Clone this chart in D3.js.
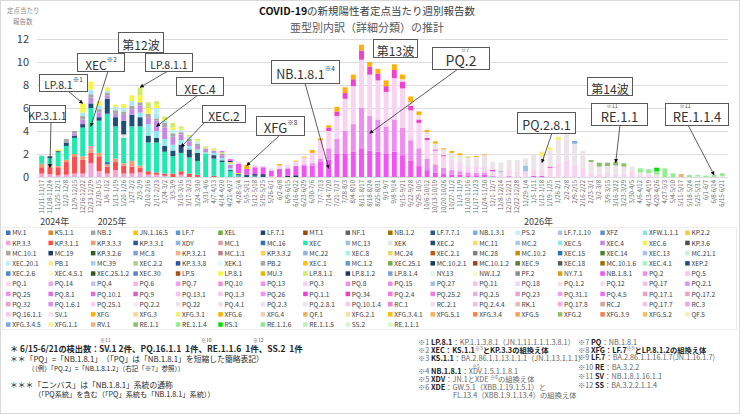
<!DOCTYPE html>
<html>
<head>
<meta charset="utf-8">
<script src="https://cdn.jsdelivr.net/npm/d3@7"></script>
<style>
  body { margin: 0; background: #fff; }
  svg text { font-family: "Noto Sans CJK JP", "Noto Sans", sans-serif; white-space: pre; }
</style>
</head>
<body>
<svg id="chart" width="740" height="414"></svg>
<script>
// ---- data ----
const weeks = [
  "11/11-11/17","11/18-11/24","11/25-12/1","12/2-12/8","12/9-12/15","12/16-12/22","12/23-12/29","12/30-1/5",
  "1/6-1/12","1/13-1/19","1/20-1/26","1/27-2/2","2/3-2/9","2/10-2/16","2/17-2/23","2/24-3/2",
  "3/3-3/9","3/10-3/16","3/17-3/23","3/24-3/30","3/31-4/6","4/7-4/13","4/14-4/20","4/21-4/27",
  "4/28-5/4","5/5-5/11","5/12-5/18","5/19-5/25","5/26-6/1","6/2-6/8","6/9-6/15","6/16-6/22",
  "6/23-6/29","6/30-7/6","7/7-7/13","7/14-7/20","7/21-7/27","7/28-8/3","8/4-8/10","8/11-8/17",
  "8/18-8/24","8/25-8/31","9/1-9/7","9/8-9/14","9/15-9/21","9/22-9/28","9/29-10/5","10/6-10/12",
  "10/13-10/19","10/20-10/26","10/27-11/2","11/3-11/9","11/10-11/16","11/17-11/23","11/24-11/30","12/1-12/7",
  "12/8-12/14","12/15-12/21","12/22-12/28","12/29-1/4","1/5-1/11","1/12-1/18","1/19-1/25","1/26-2/1",
  "2/2-2/8","2/9-2/15","2/16-2/22","2/23-3/1","3/2-3/8","3/9-3/15","3/16-3/22","3/23-3/29",
  "3/30-4/5","4/6-4/12","4/13-4/19","4/20-4/26","4/27-5/3","5/4-5/10","5/11-5/17","5/18-5/24",
  "5/25-5/31","6/1-6/7","6/8-6/14","6/15-6/21"
];
const yearLabels = ["2024年", "2025年", "2026年"];
const yearStartWeeks = ["11/11-11/17", "12/30-1/5", "12/29-1/4"];
const yTicks = [0, 2, 4, 6, 8, 10, 12];

const legendNames = [
  "MV.1","KS.1.1","NB.1","JN.1.16.5","LF.7","XEL","LF.7.1","MT.1","NF.1","NB.1.2","LF.7.7.1","NB.1.3.1","PS.2","LF.7.1.10","XFZ","XFW.1.1.1","KP.2.2",
  "KP.3.3","KP.3.1.1","KP.3.3.3","KP.3.3.1","XDY","MC.1","MC.16","XEC","MC.13","XEK","XEC.2","MC.11","MC.2","XEC.5","XEC.4","XEC.6","KP.3.6",
  "MC.10.1","MC.19","KP.3.2.6","MC.8","KP.3.2.1","MC.1.1","KP.3.3.2","MC.22","XEC.8","MC.24","XEC.2.1","MC.28","MC.10.2","XEC.15","XEC.14","XEC.13","MC.21.1",
  "XEC.20.1","PB.1","MC.39","XEC.2.2","KP.3.3.8","XEK.1","PB.2","XEC.1","MC.1.2","XEC.25.1","MC.10.2.1","MC.10.1.2","XEC.9","XEC.18","MC.10.1.6","XEC.4.1","XEP.2",
  "XEC.2.6","XEC.4.5.1","XEC.25.1.2","XEC.30","LP.5","LP.8.1","MU.3","LP.8.1.1","LP.8.1.2","LP.8.1.4","NY.13","NW.1.2","PF.2","NY.7.1","NB.1.8.1","PQ.2","PQ.5",
  "PQ.1","PQ.14","PQ.4","PQ.6","PQ.7","PQ.10","PQ.13","PQ.3","PQ.8","PQ.15","PQ.27","PQ.11","PQ.18","PQ.1.2","PQ.12","PQ.17","PQ.2.1",
  "PQ.25","PQ.8.1","PQ.10.1","PQ.9","PQ.13.1","PQ.1.3","PQ.26","PQ.1.1","PQ.34","PQ.2.4","PQ.25.2","PQ.2.5","PQ.23","PQ.31.1","PQ.4.5","PQ.17.1","PQ.17.2",
  "PQ.32","PQ.1.6.1","PQ.25.1","PQ.2.2","PQ.22","PQ.4.1","PQ.2.3","PQ.2.8.1","PQ.10.1.4","RC.1","RC.2.1","PQ.2.4.4","RK.1","PQ.17.8","RC.2","PQ.17.7","RC.3",
  "PQ.16.1.1","SV.1","XFG","XFG.3","XFG.3.1","XFG.6","XFG.4","QF.1","XFG.2.1","XFG.3.4.1","XFG.5.1","XFG.3.4","XFG.5","XFG.2","XFG.3.9","XFG.5.2","QF.5",
  "XFG.3.4.5","XFG.1.1","RV.1","RE.1.1","RE.1.1.4","RS.1","RE.1.1.6","RE.1.1.5","SS.2","RE.1.1.1"
];
const legendColors = [
  "#4472c4","#ed7d31","#a5a5a5","#ffc000","#5b9bd5","#70ad47","#264478","#9e480e","#636363","#997300","#255e91","#7cafdd","#cdeefa","#a9c4eb","#698ed0","#8be3ef","#ffc53d",
  "#f7a3d8","#ff4d4d","#f79a6e","#2f5597","#8fb4e3","#e39aa5","#2e75b6","#1de9b0","#9dc3e6","#e3e3e3","#1f4e79","#ffd966","#a9cdea","#8ee8ee","#c589e8","#f2f250","#4d4d4d",
  "#a6a6a6","#1f3864","#385723","#7da0dc","#f4b183","#c27c89","#ffd34d","#8db4e2","#a6ecf7","#e6da6e","#c55a11","#808080","#bf9000","#2e75b6","#548235","#a9c0e8","#c9f2cf",
  "#bdeff7","#ffe699","#a9cdea","#a9d18e","#2f5597","#dff7f7","#a6a6a6","#ffc000","#5b9bd5","#70ad47","#203864","#a0461b","#548235","#595959","#997300","#a9f0c9","#1f4e79",
  "#4a8bd0","#fff5cc","#385723","#5b86d0","#a5501a","#f5f542","#e6b800","#d2ea6a","#203864","#7f9fd0","#e2f7e2","#fff7c2","#8c8c8c","#d4a017","#f552f5","#ef8cef","#f7c4ef",
  "#f8d3f2","#f0a8e8","#c9c2f0","#f8b8e8","#f09ff0","#f08fd8","#f890f0","#f7d0f0","#f58ee8","#e48ff0","#9dc3e6","#f7c0f0","#f7d2f7","#f5e0f0","#efe0ef","#f7c0ef","#e690f7",
  "#f58ef0","#e070e8","#e06ed8","#d860c0","#f7c0f0","#f7c8f0","#f58ef7","#f040d0","#f040c0","#f07de0","#f07ee8","#e8b0e0","#eea0d0","#f0a0f0","#f070f0","#f0a0c0","#f0a0c8",
  "#f0a0c8","#d890e8","#f7d0f0","#f7eef7","#efe2ef","#efe2ef","#efe2ef","#ece4e8","#f7c8f0","#f080d0","#efe0ef","#f0c0e0","#f0b8b0","#f7a8f0","#d8a0a0","#f7c0f0","#f0a0f0",
  "#f7c8f0","#f7e0f0","#ffb000","#f7d890","#f7ef70","#ffb000","#f0d0b0","#f0b060","#f7e0a0","#ffc000","#f7b060","#ff7f3f","#f7a060","#90c060","#f78050","#f7c060","#f7f0b0",
  "#7ea8e0","#f7f0a0","#f0b080","#8cc068","#90f090","#00e000","#90e890","#c0f0b0","#d0f8d0","#d8f8d0"
];

// weekly values per lineage (rows of 12 weeks)
const kp33 = [
  0.3,0.25,0.15,0.2,0.3,0.3,1.2,0.5,0.3,0.6,0.3,0.3,
  0.4,0.2,0.2,0.1,0,0.2,0,0,0,0,0,0,
  0,0,0,0,0,0,0,0,0,0,0,0, 0,0,0,0,0,0,0,0,0,0,0,0,
  0,0,0,0,0,0,0,0,0,0,0,0, 0,0,0,0,0,0,0,0,0,0,0,0, 0,0,0,0,0,0,0,0,0,0,0,0];
const kp311 = [
  0.55,0.6,0.7,1.1,1.5,1.2,0.9,1.3,0.6,0.7,0.7,0.6,
  0.4,0.3,0.2,0.2,0.3,0.3,0.3,0.2,0,0.1,0,0,
  0,0,0,0,0,0,0,0,0,0,0,0, 0,0,0,0,0,0,0,0,0,0,0,0,
  0,0,0,0,0,0,0,0,0,0,0,0, 0,0,0,0,0,0,0,0,0,0,0,0, 0,0,0,0,0,0,0,0,0,0,0,0];
const kp333 = [
  0.3,0.2,0.1,0.2,0.2,0.3,0.3,0.3,0.2,0.3,0.2,0.5,
  0.2,0,0,0,0,0,0,0,0,0,0,0,
  0,0,0,0,0,0,0,0,0,0,0,0, 0,0,0,0,0,0,0,0,0,0,0,0,
  0,0,0,0,0,0,0,0,0,0,0,0, 0,0,0,0,0,0,0,0,0,0,0,0, 0,0,0,0,0,0,0,0,0,0,0,0];
const mc1 = [
  0,0,0,0,0,0,0.3,0,0,0,0,0,
  0,0,0,0,0,0,0,0,0,0,0,0,
  0,0,0,0,0,0,0,0,0,0,0,0, 0,0,0,0,0,0,0,0,0,0,0,0,
  0,0,0,0,0,0,0,0,0,0,0,0, 0,0,0,0,0,0,0,0,0,0,0,0, 0,0,0,0,0,0,0,0,0,0,0,0];
const mc16 = [
  0,0.1,0,0,0,0,0,0,0.2,0,0,0,
  0,0,0,0,0,0,0,0,0,0,0,0,
  0.05,0,0,0,0,0,0,0,0,0,0,0, 0,0,0,0,0,0,0,0,0,0,0,0,
  0,0,0,0,0,0,0,0,0,0,0,0, 0,0,0,0,0,0,0,0,0,0,0,0, 0,0,0,0,0,0,0,0,0,0,0,0];
const xec = [
  0.7,0.5,1.2,1.2,1.4,2.5,3.3,2.8,4.2,2.8,2.2,3.0,
  3.4,2.5,2.6,1.9,1.5,1.6,1.4,1.2,2.0,1.5,1.3,0.5,
  0.1,0,0.05,0,0,0,0,0,0,0,0,0, 0,0,0,0,0,0,0,0,0,0,0,0,
  0,0,0,0,0,0,0,0,0,0,0,0, 0,0,0,0,0,0,0,0,0,0,0,0, 0,0,0,0,0,0,0,0,0,0,0,0];
const xek = [
  0,0,0,0,0,0,0,0,0,0,0.3,0,
  0,0,0,0,0,0,0,0,0,0,0,0,
  0,0,0,0,0,0,0,0,0,0,0,0, 0,0,0,0,0,0,0,0,0,0,0,0,
  0,0,0,0,0,0,0,0,0,0,0,0, 0,0,0,0,0,0,0,0,0,0,0,0, 0,0,0,0,0,0,0,0,0,0,0,0];
const xec2 = [
  0,0.15,0.1,0.3,0.2,0.3,0.4,0.3,1.3,0.8,1.2,1.0,
  0.8,0.6,0.4,0.5,0.5,0.7,0.7,0.7,0,0.3,0.15,0.1,
  0.1,0.1,0.1,0.1,0,0,0,0,0,0,0,0, 0,0,0,0,0,0,0,0,0,0,0,0,
  0,0,0,0,0,0,0,0,0,0,0,0, 0,0,0,0,0,0,0,0,0,0,0,0, 0,0,0,0,0,0,0,0,0,0,0,0];
const xec5 = [
  0,0,0,0,0,0,0,0,0,0,0,0,
  0.4,1.0,0.6,0.6,0.5,0.4,0.3,0.3,0.15,0.2,0.2,0.15,
  0,0,0,0,0,0,0,0,0,0,0,0, 0,0,0,0,0,0,0,0,0,0,0,0,
  0,0,0,0,0,0,0,0,0,0,0,0, 0,0,0,0,0,0,0,0,0,0,0,0, 0,0,0,0,0,0,0,0,0,0,0,0];
const xec4 = [
  0,0,0,0,0.2,0.4,0.5,0.4,0.3,0.3,0.5,0.5,
  0.6,0.6,0.9,1.0,0.7,0.5,0.4,0.3,0.3,0.2,0.25,0.3,
  0,0,0,0,0,0,0,0,0,0,0,0, 0,0,0,0,0,0,0,0,0,0,0,0,
  0,0,0,0,0,0,0,0,0,0,0,0, 0,0,0,0,0,0,0,0,0,0,0,0, 0,0,0,0,0,0,0,0,0,0,0,0];
const xec6 = [
  0,0,0.15,0,0,0,0,0,0,0,0,0,
  0,0,0,0,0,0,0,0,0,0,0,0,
  0,0,0,0,0,0,0,0,0,0,0,0, 0,0,0,0,0,0,0,0,0,0,0,0,
  0,0,0,0,0,0,0,0,0,0,0,0, 0,0,0,0,0,0,0,0,0,0,0,0, 0,0,0,0,0,0,0,0,0,0,0,0];
const mc101 = [
  0,0,0,0.3,0.2,0.3,0.3,0.3,0.2,0.3,0.3,0.3,
  0.3,0.3,0.2,0.4,0.3,0.2,0.2,0.2,0,0,0.1,0,
  0,0,0,0,0,0,0,0,0,0,0,0, 0,0,0,0,0,0,0,0,0,0,0,0,
  0,0,0,0,0,0,0,0,0,0,0,0, 0,0,0,0,0,0,0,0,0,0,0,0, 0,0,0,0,0,0,0,0,0,0,0,0];
const xec8 = [
  0,0,0,0,0,0.3,0.4,0.3,0.2,0.3,0.3,0.4,
  0,0,0.4,0.2,0,0,0,0,0,0,0,0,
  0,0,0,0,0,0,0,0,0,0,0,0, 0,0,0,0,0,0,0,0,0,0,0,0,
  0,0,0,0,0,0,0,0,0,0,0,0, 0,0,0,0,0,0,0,0,0,0,0,0, 0,0,0,0,0,0,0,0,0,0,0,0];
const xec201 = [
  0,0,0,0,0,0,0,0,0,0,0,0,
  0,0,0.5,0,0.3,0.2,0.2,0.2,0,0,0,0.1,
  0,0,0,0,0,0,0,0,0,0,0,0, 0,0,0,0,0,0,0,0,0,0,0,0,
  0,0,0,0,0,0,0,0,0,0,0,0, 0,0,0,0,0,0,0,0,0,0,0,0, 0,0,0,0,0,0,0,0,0,0,0,0];
const lp81 = [
  0,0,0,0,0,0.8,0.7,0.4,0.3,0.2,0.35,0.5,
  0.6,0.5,0.3,0.15,0.2,0.1,0,0.1,0,0.1,0,0,
  0,0,0,0,0,0,0,0,0,0,0,0, 0,0,0,0,0,0,0,0,0,0,0,0,
  0,0,0,0,0,0,0,0,0,0,0,0, 0,0,0,0,0,0,0,0,0,0,0,0, 0,0,0,0,0,0,0,0,0,0,0,0];
const lp811 = [
  0,0,0,0,0,0,0,0,0,0,0,0,
  0.7,0.5,0.3,0.2,0.4,0.2,0.15,0.1,0.2,0.1,0.15,0.15,
  0.1,0,0,0,0.05,0,0,0,0,0,0,0, 0,0,0,0,0,0,0,0,0,0,0,0,
  0,0,0,0,0,0,0,0,0,0,0,0, 0,0,0,0,0,0,0,0,0,0,0,0, 0,0,0,0,0,0,0,0,0,0,0,0];
const lp812 = [
  0,0,0,0,0,0,0,0,0,0,0,0,
  0,0,0,0,0,0,0,0,0,0,0,0.1,
  0,0.1,0.1,0.15,0,0,0.1,0.15,0,0,0,0, 0,0,0,0,0,0,0,0,0,0,0,0,
  0,0,0,0,0,0,0,0,0,0,0,0, 0,0,0,0,0,0,0,0,0,0,0,0, 0,0,0,0,0,0,0,0,0,0,0,0];
const nb181 = [
  0,0,0,0,0,0,0,0,0,0,0,0,
  0,0,0,0,0,0,0,0,0,0,0.1,0.15,
  0.8,0.5,0.6,0.6,0.5,0.7,0.65,0.8,1.0,1.0,1.3,1.5,
  2.0,2.0,2.2,2.5,2.3,2.2,2.0,2.2,1.9,1.4,1.0,0.6,
  0.4,0.3,0.2,0.2,0.15,0.15,0.2,0,0,0,0,0,
  0.1,0.1,0,0,0,0,0,0,0,0,0,0, 0,0,0,0,0,0,0,0,0,0,0,0];
const pq2 = [
  0,0,0,0,0,0,0,0,0,0,0,0, 0,0,0,0,0,0,0,0,0,0,0,0,
  0,0,0,0,0,0,0,0,0.1,0.2,0.3,1.0,
  1.3,2.0,2.4,3.5,3.0,2.8,2.4,2.8,2.4,1.8,1.5,1.0,
  0.7,0.5,0.4,0.3,0.25,0.2,0.2,0.1,0,0.1,0,0,
  0,0,0,0,0,0,0,0,0,0,0,0, 0,0,0,0,0,0,0,0,0,0,0,0];
const pq1 = [
  0,0,0,0,0,0,0,0,0,0,0,0, 0,0,0,0,0,0,0,0,0,0,0,0,
  0.2,0,0.2,0.11,0.2,0.3,0.3,0.4,0.6,0.9,1.6,1.5,
  2.0,2.8,3.3,4.2,3.6,3.4,3.0,3.6,3.4,2.6,2.2,1.6,
  1.2,1.0,0.9,0.8,0.6,0.6,0.6,0.4,0.4,0.5,0.48,0.5,
  0.6,0.5,0.8,1.2,1.4,1.1,0.8,0.4,0.3,0.35,0.3,0.3,
  0.5,0.2,0.2,0,0,0,0,0,0,0,0,0];
const pq27 = [
  0,0,0,0,0,0,0,0,0,0,0,0, 0,0,0,0,0,0,0,0,0,0,0,0,
  0,0,0,0,0,0,0,0,0,0,0,0, 0,0,0,0,0,0,0,0,0,0,0,0,
  0,0,0,0,0,0,0,0,0.15,0,0,0.5,
  0,0,0,0,0,0,0,0,0,0,0,0, 0,0,0,0,0,0,0,0,0,0,0,0];
const pq11 = [
  0,0,0,0,0,0,0,0,0,0,0,0, 0,0,0,0,0,0,0,0,0,0,0,0,
  0,0,0,0,0,0,0,0,0,0,0,0.3,
  0.4,0.5,0.6,0.8,0.7,0.6,0.5,0.7,0.6,0.4,0.3,0.2,
  0.1,0.1,0,0,0,0,0,0.13,0,0,0,0,
  0,0,0.1,0,0,0,0,0,0,0,0,0, 0,0,0,0,0,0,0,0,0,0,0,0];
const pq281 = [
  0,0,0,0,0,0,0,0,0,0,0,0, 0,0,0,0,0,0,0,0,0,0,0,0,
  0,0,0,0,0,0,0,0,0,0,0,0,
  0,0,0,0,0,0,0,0,0.2,0.3,0.4,0.5,
  0.5,0.5,0.6,0.6,0.7,0.8,0.9,0.7,0.7,0.88,1.0,0.62,
  1.27,1.2,1.4,2.0,2.4,1.8,1.46,0.9,0.6,0.6,0.7,0.6,
  0.4,0.2,0.15,0.2,0,0,0,0,0.05,0,0,0.1];
const xfg = [
  0,0,0,0,0,0,0,0,0,0,0,0, 0,0,0,0,0,0,0,0,0,0,0,0,
  0,0.35,0,0,0,0.13,0,0.07,0.07,0.25,0.16,0.2,
  0.4,0.5,0.4,0.5,0.4,0.4,0.5,0.5,0.4,0.5,0.3,0.2,
  0.2,0.1,0.16,0.16,0.07,0.08,0.05,0,0,0,0,0,
  0,0,0,0,0,0,0,0,0,0,0,0, 0,0,0,0,0,0,0,0,0,0,0,0];
const xfg31 = [
  0,0,0,0,0,0,0,0,0,0,0,0, 0,0,0,0,0,0,0,0,0,0,0,0,
  0,0,0,0,0,0,0,0,0,0,0,0, 0,0,0,0,0,0,0,0,0,0,0,0,
  0,0,0,0,0,0,0,0,0,0,0,0,
  0,0.4,0.28,0.3,0,0,0,0,0,0,0,0, 0,0,0,0,0,0,0,0,0,0,0,0];
const xfg345 = [
  0,0,0,0,0,0,0,0,0,0,0,0, 0,0,0,0,0,0,0,0,0,0,0,0,
  0,0,0,0,0,0,0,0,0,0,0,0, 0,0,0,0,0,0,0,0,0,0,0,0,
  0,0,0,0,0,0,0,0,0,0,0,0,
  0,0,0,0,0,0.23,0,0,0,0,0,0, 0,0,0,0,0,0,0,0,0,0,0,0];
const rv1 = [
  0,0,0,0,0,0,0,0,0,0,0,0, 0,0,0,0,0,0,0,0,0,0,0,0,
  0,0,0,0,0,0,0,0,0,0,0,0, 0,0,0,0,0,0,0,0,0,0,0,0,
  0,0,0,0,0,0,0,0,0,0,0,0, 0,0,0,0,0,0,0,0,0,0,0,0,
  0,0,0,0,0,0,0.26,0,0,0,0,0];
const re11 = [
  0,0,0,0,0,0,0,0,0,0,0,0, 0,0,0,0,0,0,0,0,0,0,0,0,
  0,0,0,0,0,0,0,0,0,0,0,0, 0,0,0,0,0,0,0,0,0,0,0,0,
  0,0,0,0,0,0,0,0,0,0,0,0,
  0,0,0,0,0,0,0,0.18,0.35,0.3,0.33,0.29,
  0,0,0,0,0,0,0,0,0,0,0,0];
const re114 = [
  0,0,0,0,0,0,0,0,0,0,0,0, 0,0,0,0,0,0,0,0,0,0,0,0,
  0,0,0,0,0,0,0,0,0,0,0,0, 0,0,0,0,0,0,0,0,0,0,0,0,
  0,0,0,0,0,0,0,0,0,0,0,0, 0,0,0,0,0,0,0,0,0,0,0,0,
  0,0.35,0.32,0.3,0.75,0.32,0,0.17,0.12,0.12,0.17,0];
const rs1 = [
  0,0,0,0,0,0,0,0,0,0,0,0, 0,0,0,0,0,0,0,0,0,0,0,0,
  0,0,0,0,0,0,0,0,0,0,0,0, 0,0,0,0,0,0,0,0,0,0,0,0,
  0,0,0,0,0,0,0,0,0,0,0,0, 0,0,0,0,0,0,0,0,0,0,0,0,
  0,0,0,0.31,0,0,0,0,0,0,0,0];
const re116 = [
  0,0,0,0,0,0,0,0,0,0,0,0, 0,0,0,0,0,0,0,0,0,0,0,0,
  0,0,0,0,0,0,0,0,0,0,0,0, 0,0,0,0,0,0,0,0,0,0,0,0,
  0,0,0,0,0,0,0,0,0,0,0,0, 0,0,0,0,0,0,0,0,0,0,0,0,
  0,0,0,0,0,0,0,0,0,0,0,0.22];

// stacking order follows the legend order
const seriesList = [
  ["KP.3.3", kp33], ["KP.3.1.1", kp311], ["KP.3.3.3", kp333], ["MC.1", mc1], ["MC.16", mc16],
  ["XEC", xec], ["XEK", xek], ["XEC.2", xec2], ["XEC.5", xec5], ["XEC.4", xec4], ["XEC.6", xec6],
  ["MC.10.1", mc101], ["XEC.8", xec8], ["XEC.20.1", xec201], ["LP.8.1", lp81], ["LP.8.1.1", lp811],
  ["LP.8.1.2", lp812], ["NB.1.8.1", nb181], ["PQ.2", pq2], ["PQ.1", pq1], ["PQ.27", pq27],
  ["PQ.1.1", pq11], ["PQ.2.8.1", pq281], ["XFG", xfg], ["XFG.3.1", xfg31], ["XFG.3.4.5", xfg345],
  ["RV.1", rv1], ["RE.1.1", re11], ["RE.1.1.4", re114], ["RS.1", rs1], ["RE.1.1.6", re116]
];

// ---- chart ----
const svg = d3.select("#chart");

svg.append("rect").attr("x", 0.5).attr("y", 0.5).attr("width", 739).attr("height", 413)
  .attr("fill", "#fff").attr("stroke", "#d9d9d9");

const x = d3.scaleBand().domain(weeks).range([37.6, 726.4]).paddingInner(0.4).paddingOuter(0.2);
const y = d3.scaleLinear().domain([0, 12]).range([177, 39]);
const color = d3.scaleOrdinal(legendNames, legendColors);

// grid
svg.append("g").selectAll("line").data(yTicks).enter().append("line")
  .attr("x1", 37).attr("x2", 728)
  .attr("y1", d => y(d) + 0.5).attr("y2", d => y(d) + 0.5)
  .attr("stroke", "#dcdcdc").attr("stroke-width", 1);

svg.append("g").selectAll("text").data(yTicks).enter().append("text")
  .attr("x", 29).attr("y", d => y(d)).attr("dy", "0.35em")
  .attr("text-anchor", "end").attr("font-size", 11).attr("fill", "#404040")
  .text(d => d);

svg.append("text").attr("x", 7).attr("y", 13).attr("font-size", 6.5).attr("fill", "#8c8c8c").text("定点当たり");
svg.append("text").attr("x", 13).attr("y", 24).attr("font-size", 6.5).attr("fill", "#8c8c8c").text("報告数");

// title
const title = svg.append("text").attr("x", 367).attr("y", 15).attr("text-anchor", "middle").attr("font-size", 10.5);
title.append("tspan").attr("font-weight", "bold").attr("fill", "#111").text("COVID-19");
title.append("tspan").attr("fill", "#404040").text("の新規陽性者定点当たり週別報告数");
svg.append("text").attr("x", 367).attr("y", 32).attr("text-anchor", "middle").attr("font-size", 11)
  .attr("fill", "#595959").text("亜型別内訳（詳細分類）の推計");

// stacked bars
const rows = weeks.map((w, i) => {
  const r = { week: w };
  seriesList.forEach(([name, vals]) => { r[name] = vals[i]; });
  return r;
});
const stacked = d3.stack().keys(seriesList.map(s => s[0]))(rows);

svg.append("g").selectAll("g").data(stacked).enter().append("g")
  .attr("fill", d => color(d.key))
  .selectAll("rect").data(d => d.filter(p => p[1] - p[0] > 0)).enter().append("rect")
  .attr("x", d => x(d.data.week))
  .attr("width", x.bandwidth())
  .attr("y", d => y(d[1]))
  .attr("height", d => y(d[0]) - y(d[1]));

// x labels
svg.append("g").selectAll("text").data(weeks).enter().append("text")
  .attr("transform", d => `translate(${x(d) + x.bandwidth() / 2 + 2},180) rotate(-90)`)
  .attr("text-anchor", "end").attr("font-size", 6).attr("fill", "#666")
  .text(d => d);

svg.append("g").selectAll("text").data(yearLabels).enter().append("text")
  .attr("x", (d, i) => x(yearStartWeeks[i]) + 1).attr("y", 225)
  .attr("font-size", 9).attr("fill", "#404040").text(d => d);

// callouts
const defs = svg.append("defs");
defs.append("marker").attr("id", "arr").attr("viewBox", "0 0 10 10").attr("refX", 9).attr("refY", 5)
  .attr("markerWidth", 5).attr("markerHeight", 5).attr("orient", "auto")
  .append("path").attr("d", "M0,0L10,5L0,10z").attr("fill", "#111");

const callouts = [
  { t: "KP.3.1.1", box: [29, 105, 36, 17], fs: 10.5, from: [51, 122], week: "11/18-11/24", v: 0.8 },
  { t: "LP.8.1", sup: "※1", box: [39, 74, 48, 17], fs: 10.5, from: [68, 91], week: "12/16-12/22", v: 6.4 },
  { t: "XEC", sup: "※2", box: [77, 53, 47, 18], fs: 12, from: [108, 71], week: "12/23-12/29", v: 4.4 },
  { t: "第12波", box: [118, 32, 45, 20], fs: 12 },
  { t: "LP.8.1.1", box: [145, 53, 47, 18], fs: 10.5, from: [168, 71], week: "2/3-2/9", v: 7.8 },
  { t: "XEC.4", box: [176, 77, 47, 18], fs: 12, from: [198, 95], week: "2/17-2/23", v: 4.4 },
  { t: "XEC.2", box: [202, 105, 43, 17], fs: 12, from: [205, 122], week: "3/10-3/16", v: 2.6 },
  { t: "XFG", sup: "※8", box: [256, 116, 48, 19], fs: 13, from: [280, 135], week: "5/5-5/11", v: 1.0 },
  { t: "NB.1.8.1", sup: "※4", box: [271, 60, 68, 23], fs: 12.5, from: [305, 83], week: "7/14-7/20", v: 0.75 },
  { t: "第13波", box: [373, 39, 44, 18], fs: 12 },
  { t: "PQ.2", supAbove: "※7", supX: 465, box: [432, 47, 57, 22], fs: 14, from: [458, 69], week: "8/18-8/24", v: 3.8 },
  { t: "第14波", box: [587, 77, 45, 18], fs: 12 },
  { t: "PQ.2.8.1", box: [517, 112, 58, 21], fs: 12.5, from: [552, 133], week: "1/12-1/18", v: 1.25 },
  { t: "RE.1.1", supAbove: "※11", supX: 612, box: [591, 103, 56, 22], fs: 13, from: [620, 125], week: "3/16-3/22", v: 1.25 },
  { t: "RE.1.1.4", supAbove: "※11", supX: 685, box: [665, 103, 63, 22], fs: 13, from: [688, 125], week: "6/8-6/14", v: 0.17 }
];

const cg = svg.append("g");
callouts.forEach(c => {
  if (c.from) {
    cg.append("line")
      .attr("x1", c.from[0]).attr("y1", c.from[1])
      .attr("x2", x(c.week) + x.bandwidth() / 2).attr("y2", y(c.v))
      .attr("stroke", "#333").attr("stroke-width", 0.8).attr("marker-end", "url(#arr)");
  }
  const [bx, by, bw, bh] = c.box;
  cg.append("rect").attr("x", bx + 0.5).attr("y", by + 0.5).attr("width", bw).attr("height", bh)
    .attr("fill", "#fff").attr("stroke", "#595959").attr("stroke-width", 1);
  const tx = cg.append("text").attr("x", bx + bw / 2 + 0.5).attr("y", by + bh / 2 + 1.5)
    .attr("dominant-baseline", "central").attr("text-anchor", "middle")
    .attr("font-size", c.fs).attr("fill", "#333");
  tx.append("tspan").text(c.t);
  if (c.sup) {
    tx.append("tspan").attr("font-size", 6.5).attr("dy", -5).text(c.sup);
  }
  if (c.supAbove) {
    cg.append("text").attr("x", c.supX).attr("y", by + 4.5).attr("text-anchor", "middle")
      .attr("font-size", 5.5).attr("fill", "#555").text(c.supAbove);
  }
});

// legend
svg.append("rect").attr("x", 2.5).attr("y", 227.5).attr("width", 734).attr("height", 102)
  .attr("fill", "none").attr("stroke", "#ececec");
const lg = svg.append("g").selectAll("g").data(legendNames).enter().append("g")
  .attr("transform", (d, i) => `translate(${6 + (i % 17) * 42.45},${233 + Math.floor(i / 17) * 10.2})`);
lg.append("rect").attr("x", 0).attr("y", -2.5).attr("width", 4.5).attr("height", 4.5)
  .attr("fill", d => color(d));
lg.append("text").attr("x", 6.2).attr("y", 0).attr("dy", "0.35em")
  .attr("font-size", 6.6).attr("fill", "#404040").text(d => d);

// footnotes (left)
const noteL = svg.append("g").attr("fill", "#262626");
noteL.append("text").attr("x", 10).attr("y", 352).attr("font-size", 8.2).attr("font-weight", "bold")
  .text("＊ 6/15-6/21の検出数：");
noteL.append("text").attr("x", 99).attr("y", 352).attr("font-size", 8.5).attr("font-weight", "bold")
  .text("SV.1 2件、PQ.16.1.1  1件、RE.1.1.6  1件、SS.2  1件");
[["※11", 100], ["※10", 201], ["※12", 253]].forEach(([s, px]) => {
  noteL.append("text").attr("x", px).attr("y", 342).attr("font-size", 5).attr("fill", "#555").text(s);
});
noteL.append("text").attr("x", 10).attr("y", 362).attr("font-size", 7.8)
  .text("＊＊「PQ」=「NB.1.8.1」　（「PQ」は「NB.1.8.1」を短縮した簡略表記）");
noteL.append("text").attr("x", 28).attr("y", 371).attr("font-size", 6.5)
  .text("（（例）「PQ.2」=「NB.1.8.1.2」（右記「※7」参照））");
noteL.append("text").attr("x", 10).attr("y", 388).attr("font-size", 7.8)
  .text("＊＊＊「ニンバス」は「NB.1.8.1」系統の通称");
noteL.append("text").attr("x", 34).attr("y", 397).attr("font-size", 7.2)
  .text("（「PQ系統」を含む（「PQ」系統も「NB.1.8.1」系統））");

// footnotes (right)
const notesR = [
  { x: 418, y: 345, segs: [["※1 "], ["LP.8.1", 1], ["：KP.1.1.3.8.1（JN.1.11.1.1.1.3.8.1）"]] },
  { x: 418, y: 353, segs: [["※2 "], ["XEC", 1], ["：", 1], ["KS.1.1", 1], ["※3", 0, 1], ["と", 1], ["KP.3.3", 1], ["の組換え体", 1]] },
  { x: 418, y: 361, segs: [["※3 "], ["KS.1.1", 1], ["：BA.2.86.1.1.13.1.1.1（JN.1.13.1.1.1）"]] },
  { x: 418, y: 374, segs: [["※4 "], ["NB.1.8.1", 1], ["：XDV.1.5.1.1.8.1"]] },
  { x: 418, y: 382, segs: [["※5 "], ["XDV", 1], ["：JN.1とXDE "], ["※6", 0, 1], ["の組換え体"]] },
  { x: 418, y: 390, segs: [["※6 "], ["XDE", 1], ["：GW.5.1（XBB.1.19.1.5.1）と"]] },
  { x: 453, y: 398, segs: [["FL.13.4（XBB.1.9.1.13.4）の組換え体"]] },
  { x: 578, y: 345, segs: [["※7 "], ["PQ", 1], ["：NB.1.8.1"]] },
  { x: 578, y: 353, segs: [["※8 "], ["XFG", 1], ["：", 1], ["LF.7", 1], ["※9", 0, 1], ["と", 1], ["LP.8.1.2", 1], ["の組換え体", 1]] },
  { x: 578, y: 360, segs: [["※9 "], ["LF.7", 1], ["：BA.2.86.1.1.16.1.7(JN.1.16.1.7)"]] },
  { x: 578, y: 370, segs: [["※10 "], ["RE", 1], ["：BA.3.2.2"]] },
  { x: 578, y: 379, segs: [["※11 "], ["SV", 1], ["：NB.1.8.1.16.1.1"]] },
  { x: 578, y: 388, segs: [["※12 "], ["SS", 1], ["：BA.3.2.2.1.1.4"]] }
];
notesR.forEach(n => {
  const t = svg.append("text").attr("x", n.x).attr("y", n.y).attr("font-size", 7.3).attr("fill", "#666");
  n.segs.forEach(([s, bold, sup]) => {
    const sp = t.append("tspan").text(s);
    if (bold) sp.attr("font-weight", "bold").attr("fill", "#222");
    if (sup) sp.attr("font-size", 5).attr("baseline-shift", "super");
  });
});
svg.append("text").attr("x", 472).attr("y", 368).attr("font-size", 5).attr("fill", "#777").text("※5");
</script>
</body>
</html>
